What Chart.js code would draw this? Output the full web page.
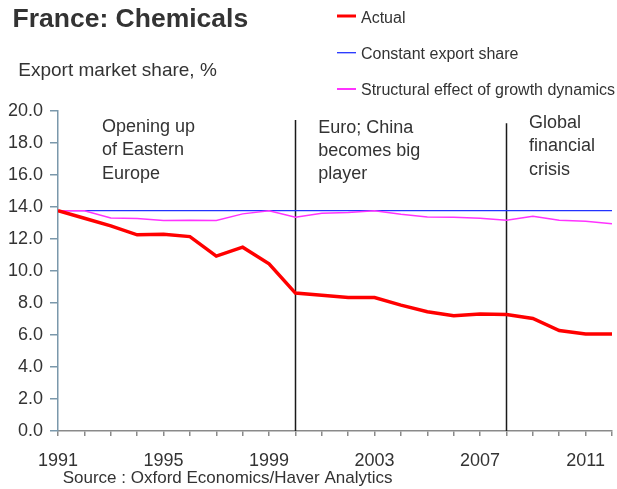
<!DOCTYPE html>
<html>
<head>
<meta charset="utf-8">
<script src="https://cdn.jsdelivr.net/npm/chart.js@4/dist/chart.umd.min.js"></script>
<style>
  html, body { margin: 0; padding: 0; background: #fff; }
  #wrap { position: relative; width: 617px; height: 489px; }
</style>
</head>
<body>
<div id="wrap"><canvas id="c" width="617" height="489"></canvas></div>
<script>
// ---- data ----
const years = [1991, 1992, 1993, 1994, 1995, 1996, 1997, 1998, 1999, 2000, 2001,
               2002, 2003, 2004, 2005, 2006, 2007, 2008, 2009, 2010, 2011, 2012];
const actual = [13.77, 13.30, 12.82, 12.26, 12.30, 12.15, 10.93, 11.49, 10.45, 8.62, 8.49,
                8.34, 8.34, 7.87, 7.45, 7.20, 7.32, 7.28, 7.03, 6.28, 6.06, 6.06];
const constantShare = [13.77, 13.77, 13.77, 13.77, 13.77, 13.77, 13.77, 13.77, 13.77, 13.77, 13.77,
                       13.77, 13.77, 13.77, 13.77, 13.77, 13.77, 13.77, 13.77, 13.77, 13.77, 13.77];
const structural = [13.77, 13.77, 13.32, 13.28, 13.15, 13.17, 13.15, 13.57, 13.77, 13.36, 13.61,
                    13.65, 13.77, 13.55, 13.38, 13.36, 13.30, 13.17, 13.42, 13.17, 13.11, 12.96];
const seriesNames = ['Actual', 'Constant export share', 'Structural effect of growth dynamics'];
const xTickLabels = ['1991', '1995', '1999', '2003', '2007', '2011'];
const markerYears = [2000, 2008];
const markerTops = [19.44, 19.23];
const annotationLines = [
  ['Opening up', 'of Eastern', 'Europe'],
  ['Euro; China', 'becomes big', 'player'],
  ['Global', 'financial', 'crisis']
];
const titleText = 'France: Chemicals';
const subtitleText = 'Export market share, %';
const sourceText = 'Source : Oxford Economics/Haver Analytics';

// ---- styling ----
const FONT = '"Liberation Sans", Arial, sans-serif';
const TXT = '#333333';
const Y_AXIS_COLOR = '#7a98ab';
const X_AXIS_COLOR = '#8a8a8a';

Chart.defaults.font.family = FONT;
Chart.defaults.color = TXT;

const toXY = arr => arr.map((v, i) => ({ x: years[i], y: v }));

const overlay = {
  id: 'overlay',
  beforeDatasetsDraw(chart) {
    const { ctx, scales: { x, y } } = chart;
    ctx.save();
    ctx.strokeStyle = '#1a1a1a';
    ctx.lineWidth = 1.5;
    markerYears.forEach((yr, i) => {
      const px = Math.round(x.getPixelForValue(yr)) + 0.5;
      ctx.beginPath();
      ctx.moveTo(px, y.getPixelForValue(markerTops[i]));
      ctx.lineTo(px, y.getPixelForValue(0));
      ctx.stroke();
    });
    ctx.restore();
  },
  afterDraw(chart) {
    const { ctx } = chart;
    ctx.save();
    ctx.fillStyle = TXT;
    ctx.textBaseline = 'alphabetic';
    ctx.textAlign = 'left';
    // title & subtitle
    ctx.font = 'bold 26.5px ' + FONT;
    ctx.fillText(titleText, 12.5, 27.3);
    ctx.font = '19px ' + FONT;
    ctx.fillText(subtitleText, 18.3, 76);
    // annotations
    ctx.font = '18px ' + FONT;
    const annPos = [[102, 132], [318.3, 132.7], [529, 128]];
    annotationLines.forEach((lines, i) => {
      lines.forEach((t, j) => ctx.fillText(t, annPos[i][0], annPos[i][1] + j * 23.3));
    });
    // legend
    const legY = [16, 52.7, 89];
    const legTextY = [23.3, 59.3, 95];
    ctx.font = '16px ' + FONT;
    chart.data.datasets.forEach((ds, i) => {
      ctx.strokeStyle = ds.borderColor;
      ctx.lineWidth = i === 0 ? 3 : (i === 1 ? 1.3 : 2);
      ctx.beginPath();
      ctx.moveTo(337, legY[i]);
      ctx.lineTo(356, legY[i]);
      ctx.stroke();
      ctx.fillStyle = TXT;
      ctx.fillText(ds.label, 361, legTextY[i]);
    });
    // source
    ctx.font = '17px ' + FONT;
    ctx.fillText(sourceText, 62.7, 483.3);
    ctx.restore();
  }
};

new Chart(document.getElementById('c'), {
  type: 'line',
  data: {
    datasets: [
      { label: seriesNames[0], data: toXY(actual), borderColor: '#ff0000', borderWidth: 3.5, pointRadius: 0, tension: 0, order: 1 },
      { label: seriesNames[1], data: toXY(constantShare), borderColor: '#2233ff', borderWidth: 1.3, pointRadius: 0, tension: 0, order: 3 },
      { label: seriesNames[2], data: toXY(structural), borderColor: '#ff33ff', borderWidth: 1.5, pointRadius: 0, tension: 0, order: 2 }
    ]
  },
  options: {
    responsive: false,
    animation: false,
    devicePixelRatio: 1,
    layout: { padding: { top: 111, right: 5, left: 0, bottom: 0 } },
    plugins: { legend: { display: false }, tooltip: { enabled: false }, title: { display: false } },
    scales: {
      x: {
        type: 'linear',
        min: years[0],
        max: years[years.length - 1],
        afterFit: s => { s.height = 58; s.paddingLeft = 0; s.paddingRight = 0; },
        border: { display: true, color: X_AXIS_COLOR, width: 1.5 },
        grid: { display: true, drawOnChartArea: false, drawTicks: true, tickLength: 5, color: X_AXIS_COLOR, lineWidth: 1.5 },
        ticks: {
          stepSize: 1,
          autoSkip: false,
          maxRotation: 0,
          padding: 14,
          font: { size: 18 },
          color: TXT,
          callback: v => (xTickLabels.includes(String(v)) ? String(v) : '')
        }
      },
      y: {
        min: 0,
        max: 20,
        afterFit: s => { s.width = 58; s.paddingTop = 0; s.paddingBottom = 0; },
        border: { display: true, color: Y_AXIS_COLOR, width: 1.5 },
        grid: { display: true, drawOnChartArea: false, drawTicks: true, tickLength: 8, color: Y_AXIS_COLOR, lineWidth: 1.5 },
        ticks: {
          stepSize: 2,
          padding: 7,
          font: { size: 18 },
          color: TXT,
          callback: v => Number(v).toFixed(1)
        }
      }
    }
  },
  plugins: [overlay]
});
</script>
</body>
</html>
